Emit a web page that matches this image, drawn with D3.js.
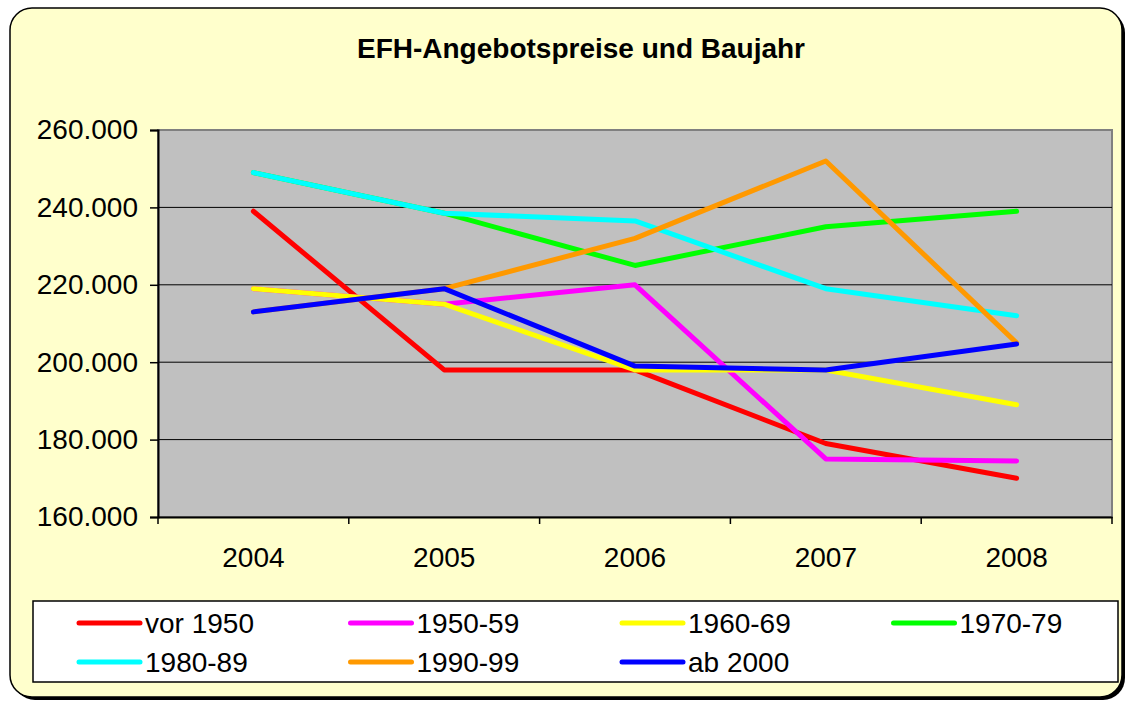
<!DOCTYPE html>
<html>
<head>
<meta charset="utf-8">
<script src="https://cdn.jsdelivr.net/npm/d3@7"></script>
<style>
  body { margin: 0; background: #fff; }
  text { font-family: "Liberation Sans", Arial, sans-serif; }
</style>
</head>
<body>
<svg id="chart" width="1135" height="705"></svg>
<script>
// jahre und preise
const years = ["2004", "2005", "2006", "2007", "2008"];
const seriesNames = ["vor 1950", "1950-59", "1960-69", "1970-79", "1980-89", "1990-99", "ab 2000"];
const seriesColors = ["#ff0000", "#ff00ff", "#ffff00", "#00ff00", "#00ffff", "#ff9900", "#0000ff"];

const vor1950 = [239000, 198000, 198000, 179000, 170000];
const b1950 = [219000, 215000, 220000, 175000, 174500];
const b1960 = [219000, 215000, 198000, 198000, 189000];
const b1970 = [249000, 238500, 225000, 235000, 239000];
const b1980 = [249000, 238500, 236500, 219000, 212000];
const b1990 = [213000, 219000, 232000, 252000, 205000];
const ab2000 = [213000, 219000, 199000, 198000, 204700];
const allValues = [vor1950, b1950, b1960, b1970, b1980, b1990, ab2000];

const yTicks = [160000, 180000, 200000, 220000, 240000, 260000];

const svg = d3.select("#chart");

// rahmen mit schatten
svg.append("rect")
  .attr("x", 13).attr("y", 11).attr("width", 1112).attr("height", 689)
  .attr("rx", 22).attr("fill", "#000");
svg.append("rect")
  .attr("x", 10).attr("y", 8).attr("width", 1112).attr("height", 689)
  .attr("rx", 22).attr("fill", "#ffffcc").attr("stroke", "#000").attr("stroke-width", 1.5);

svg.append("text")
  .attr("x", 581).attr("y", 58)
  .attr("text-anchor", "middle")
  .attr("font-size", 28).attr("font-weight", "bold")
  .text("EFH-Angebotspreise und Baujahr");

const plot = { left: 158, right: 1112, top: 130, bottom: 517 };

const x = d3.scaleBand().domain(years).range([plot.left, plot.right]);
const y = d3.scaleLinear().domain([160000, 260000]).range([plot.bottom, plot.top]);

svg.append("rect")
  .attr("x", plot.left).attr("y", plot.top)
  .attr("width", plot.right - plot.left).attr("height", plot.bottom - plot.top)
  .attr("fill", "#c0c0c0").attr("stroke", "#808080").attr("stroke-width", 2);

// gitterlinien
svg.append("g").selectAll("line")
  .data(yTicks.slice(1, -1))
  .join("line")
  .attr("x1", plot.left).attr("x2", plot.right)
  .attr("y1", d => y(d)).attr("y2", d => y(d))
  .attr("stroke", "#000").attr("stroke-width", 1);

const fmt = d3.format(",.0f");
const yAxis = svg.append("g")
  .attr("transform", `translate(${plot.left},0)`)
  .call(d3.axisLeft(y).tickValues(yTicks).tickSize(8).tickPadding(12)
    .tickFormat(d => fmt(d).replace(/,/g, ".")));
yAxis.attr("font-size", null).attr("font-family", null);
yAxis.select(".domain").attr("stroke", "#000").attr("stroke-width", 2);
yAxis.selectAll(".tick line").attr("stroke", "#000").attr("stroke-width", 1.5);
yAxis.selectAll("text").style("font-size", "28px").attr("fill", "#000");

const xAxis = svg.append("g")
  .attr("transform", `translate(0,${plot.bottom})`)
  .call(d3.axisBottom(x).tickSize(0).tickPadding(30));
xAxis.attr("font-size", null).attr("font-family", null);
xAxis.select(".domain").attr("stroke", "#000").attr("stroke-width", 2);
xAxis.selectAll("text").style("font-size", "28px").attr("fill", "#000");

// kategorie-trennstriche
svg.append("g").selectAll("line")
  .data(years.map(d => x(d)).concat([plot.right]))
  .join("line")
  .attr("x1", d => d).attr("x2", d => d)
  .attr("y1", plot.bottom).attr("y2", plot.bottom + 7)
  .attr("stroke", "#000").attr("stroke-width", 1.5);

const line = d3.line()
  .x((d, i) => x(years[i]) + x.bandwidth() / 2)
  .y(d => y(d));

svg.append("g").selectAll("path")
  .data(allValues)
  .join("path")
  .attr("d", line)
  .attr("fill", "none")
  .attr("stroke", (d, i) => seriesColors[i])
  .attr("stroke-width", 5)
  .attr("stroke-linejoin", "round")
  .attr("stroke-linecap", "round");

// legende
svg.append("rect")
  .attr("x", 33).attr("y", 601).attr("width", 1085).attr("height", 81)
  .attr("fill", "#fff").attr("stroke", "#000").attr("stroke-width", 1.5);

const legend = svg.append("g").selectAll("g")
  .data(seriesNames)
  .join("g")
  .attr("transform", (d, i) => `translate(${79 + (i % 4) * 271.5},${623 + Math.floor(i / 4) * 39})`);
legend.append("line")
  .attr("x1", 0).attr("x2", 61)
  .attr("stroke", (d, i) => seriesColors[i])
  .attr("stroke-width", 5).attr("stroke-linecap", "round");
legend.append("text")
  .attr("x", 66).attr("y", 10)
  .style("font-size", "28px")
  .text(d => d);
</script>
</body>
</html>
